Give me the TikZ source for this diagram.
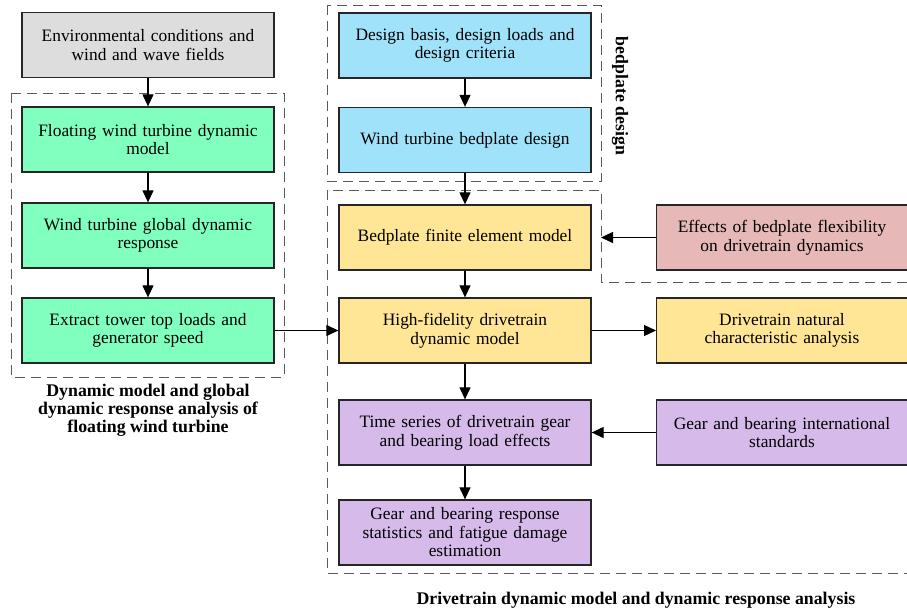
\documentclass[tikz,border=0pt]{standalone}
\usepackage{fontspec}
\setmainfont{Liberation Serif}
\usepackage{tikz}
\usetikzlibrary{arrows.meta}

\definecolor{envgray}{RGB}{221,221,221}
\definecolor{fwtgreen}{RGB}{128,255,190}
\definecolor{bpblue}{RGB}{160,226,250}
\definecolor{dtyellow}{RGB}{255,230,150}
\definecolor{fxpink}{RGB}{230,184,183}
\definecolor{gbpurple}{RGB}{214,186,234}

\begin{document}
\begin{tikzpicture}[x=1pt,y=-1pt,
    box/.style={draw=black!85,line width=1.3pt,minimum width=252pt,minimum height=65pt,
      text width=244pt,align=center,font=\fontsize{17.4}{18.5}\selectfont},
    sidebox/.style={box,minimum width=250pt},
    arr/.style={-{Triangle[length=12pt,width=11pt]},line width=1.2pt},
    region/.style={draw=black!65,line width=0.9pt,dash pattern=on 10pt off 6pt},
    caption/.style={align=center,font=\fontsize{17.8}{18}\selectfont\bfseries}]
    \useasboundingbox (0,0) rectangle (907,614);

    \draw [region] (11,93) rectangle (284,377);
    \draw [region] (327,5) rectangle (601,181);
    \coordinate (dtcorner) at (601,282);
    \draw [region] (907,282) -- (dtcorner) -- (601,190) -- (327,190) -- (327,573) -- (907,573);

    \node [box,fill=envgray] (env) at (148,45) {Environmental conditions and\\wind and wave fields};
    \node [box,fill=fwtgreen] (fwt) at (148,139.5) {Floating wind turbine dynamic\\model};
    \node [box,fill=fwtgreen] (glob) at (148,235.5) {Wind turbine global dynamic\\response};
    \node [box,fill=fwtgreen] (extr) at (148,330.5) {Extract tower top loads and\\generator speed};

    \node [box,fill=bpblue] (basis) at (465,45.5) {Design basis, design loads and\\design criteria};
    \node [box,fill=bpblue] (bpdes) at (465,140) {Wind turbine bedplate design};

    \node [box,fill=dtyellow] (bpfe) at (465,237.5) {Bedplate finite element model};
    \node [box,fill=dtyellow] (hifi) at (465,330.5) {High-fidelity drivetrain\\dynamic model};
    \node [box,fill=gbpurple] (tser) at (465,432.5) {Time series of drivetrain gear\\and bearing load effects};
    \node [box,fill=gbpurple] (stats) at (465,532.5) {Gear and bearing response\\statistics and fatigue damage\\estimation};

    \node [sidebox,fill=fxpink] (flex) at (782,237.5) {Effects of bedplate flexibility\\on drivetrain dynamics};
    \node [sidebox,fill=dtyellow] (natural) at (782,330.5) {Drivetrain natural\\characteristic analysis};
    \node [sidebox,fill=gbpurple] (gbstd) at (782,432.5) {Gear and bearing international\\standards};

    \node [caption] (fwtcap) at (148,410) {Dynamic model and global\\dynamic response analysis of\\floating wind turbine};
    \node [caption,rotate=-90] (bpcap) at (620,96) {bedplate design};
    \node [caption] (dtcap) at (636,600) {Drivetrain dynamic model and dynamic response analysis};

    \foreach \a/\b in {env/fwt,fwt/glob,glob/extr,basis/bpdes,bpdes/bpfe,bpfe/hifi,hifi/tser,tser/stats}
      \draw [arr] (\a) -- (\b);

    \draw [arr] (extr) -- (hifi);
    \draw [arr] (hifi) -- (natural);
    \draw [arr] (gbstd) -- (tser);
    \draw [arr] (flex.west) -- (flex.west -| dtcorner);
\end{tikzpicture}
\end{document}
